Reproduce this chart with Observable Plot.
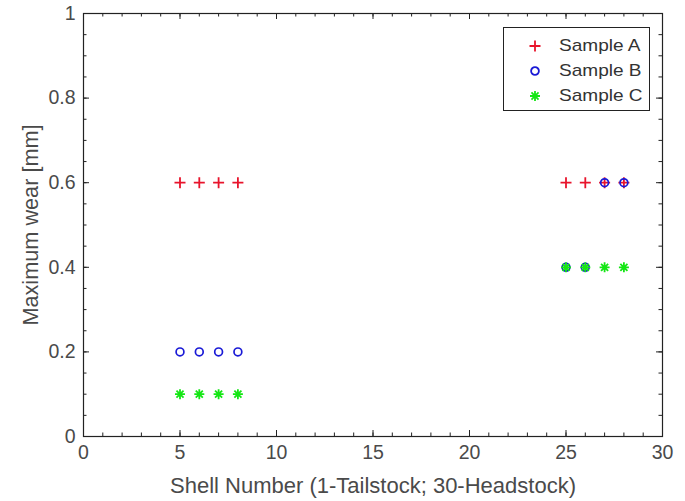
<!DOCTYPE html>
<html>
<head>
<meta charset="utf-8">
<script src="https://cdn.jsdelivr.net/npm/d3@7"></script>
<script src="https://cdn.jsdelivr.net/npm/@observablehq/plot@0.6"></script>
<style>
  body { margin: 0; background: #fff; font-family: "Liberation Sans", Arial, sans-serif; }
  #chart { position: relative; width: 685px; height: 501px; }
  .legend { position: absolute; left: 503px; top: 27px; width: 147px; height: 84px;
            border: 1px solid #222; background: #fff; box-sizing: border-box; }
  .legend .row { position: absolute; left: 0; height: 24px; display: flex; align-items: center; }
  .legend svg { width: 24px; height: 24px; margin-left: 19px; flex: none; }
  .legend span { margin-left: 12px; font-size: 17px; color: #333; white-space: nowrap;
                 display: inline-block; transform: scaleX(1.12); transform-origin: left center; }
</style>
</head>
<body>
<div id="chart"></div>
<script>
// Wear measurements per sample: shell number and maximum wear (mm)
const sampleNames = ["Sample A", "Sample B", "Sample C"];
const sampleAShells = [5, 6, 7, 8, 25, 26, 27, 28];
const sampleAWear   = [0.6, 0.6, 0.6, 0.6, 0.6, 0.6, 0.6, 0.6];
const sampleBShells = [5, 6, 7, 8, 25, 26, 27, 28];
const sampleBWear   = [0.2, 0.2, 0.2, 0.2, 0.4, 0.4, 0.6, 0.6];
const sampleCShells = [5, 6, 7, 8, 25, 26, 27, 28];
const sampleCWear   = [0.1, 0.1, 0.1, 0.1, 0.4, 0.4, 0.4, 0.4];

// Axis ticks
const xTicks = [0, 5, 10, 15, 20, 25, 30];
const yTicks = [0, 0.2, 0.4, 0.6, 0.8, 1];
const xMinorTicks = d3.range(0, 31, 1);
const yMinorTicks = d3.range(0, 21, 1).map(i => i / 20);

const colorA = "#e8142c", colorB = "#1a1ad6", colorC = "#14e614";

// Stroked marker shapes; size is π·r² as Plot passes it
const plusSymbol = {
  draw(ctx, size) {
    const r = Math.sqrt(size / Math.PI);
    ctx.moveTo(-r, 0); ctx.lineTo(r, 0);
    ctx.moveTo(0, -r); ctx.lineTo(0, r);
  }
};
const starSymbol = {
  draw(ctx, size) {
    const r = Math.sqrt(size / Math.PI), d = r * Math.SQRT1_2;
    ctx.moveTo(-r, 0); ctx.lineTo(r, 0);
    ctx.moveTo(0, -r); ctx.lineTo(0, r);
    ctx.moveTo(-d, -d); ctx.lineTo(d, d);
    ctx.moveTo(-d, d); ctx.lineTo(d, -d);
  }
};

const W = 685, H = 501, mTop = 13, mBottom = 65, mLeft = 83, mRight = 23;
const innerH = H - mTop - mBottom, innerW = W - mLeft - mRight;
const majorLen = 6, minorLen = 3.5, axisColor = "#222";

const inwardX = (ticks, len) => [
  Plot.tickX(ticks, {x: d => d, insetTop: innerH - len, stroke: axisColor}),
  Plot.tickX(ticks, {x: d => d, insetBottom: innerH - len, stroke: axisColor})
];
const inwardY = (ticks, len) => [
  Plot.tickY(ticks, {y: d => d, insetRight: innerW - len, stroke: axisColor}),
  Plot.tickY(ticks, {y: d => d, insetLeft: innerW - len, stroke: axisColor})
];

const chart = Plot.plot({
  width: W, height: H,
  marginTop: mTop, marginBottom: mBottom, marginLeft: mLeft, marginRight: mRight,
  style: {fontFamily: "'Liberation Sans', Arial, sans-serif", fontSize: "19.5px", color: "#4a4a4a", background: "#fff"},
  x: {domain: [0, 30]},
  y: {domain: [0, 1]},
  marks: [
    ...inwardX(xMinorTicks, minorLen),
    ...inwardX(xTicks, majorLen),
    ...inwardY(yMinorTicks, minorLen),
    ...inwardY(yTicks, majorLen),
    Plot.frame({stroke: axisColor, strokeWidth: 1.2}),
    Plot.axisX({ticks: xTicks, tickSize: 0, tickPadding: 9, tickFormat: d => String(d), label: null}),
    Plot.axisX({ticks: [], label: "Shell Number (1-Tailstock; 30-Headstock)", labelAnchor: "center",
      labelArrow: "none", labelOffset: 56, fontSize: 22}),
    Plot.axisY({ticks: yTicks, tickSize: 0, tickPadding: 8, tickFormat: d => String(d), label: null}),
    Plot.axisY({ticks: [], label: "Maximum wear [mm]", labelAnchor: "center",
      labelArrow: "none", labelOffset: 61, fontSize: 21.7}),
    Plot.dot(sampleAShells, {x: d => d, y: (d, i) => sampleAWear[i], symbol: plusSymbol, r: 5.5,
      stroke: colorA, fill: "none", strokeWidth: 1.8}),
    Plot.dot(sampleBShells, {x: d => d, y: (d, i) => sampleBWear[i], symbol: "circle", r: 3.9,
      stroke: colorB, fill: "none", strokeWidth: 1.7}),
    Plot.dot(sampleCShells, {x: d => d, y: (d, i) => sampleCWear[i], symbol: starSymbol, r: 5,
      stroke: colorC, fill: "none", strokeWidth: 1.8})
  ]
});

const container = document.getElementById("chart");
container.appendChild(chart);

// Legend box inside the axes, top right
const legendSymbols = [
  {name: sampleNames[0], color: colorA, symbol: plusSymbol, r: 5.5},
  {name: sampleNames[1], color: colorB, symbol: d3.symbolCircle, r: 3.9},
  {name: sampleNames[2], color: colorC, symbol: starSymbol, r: 5}
];
const legend = document.createElement("div");
legend.className = "legend";
legendSymbols.forEach((s, i) => {
  const row = document.createElement("div");
  row.className = "row";
  row.style.top = (6 + i * 25) + "px";
  const svg = d3.create("svg").attr("viewBox", "-12 -12 24 24");
  svg.append("path")
    .attr("d", d3.symbol(s.symbol, Math.PI * s.r * s.r)())
    .attr("fill", "none").attr("stroke", s.color).attr("stroke-width", 1.8);
  row.appendChild(svg.node());
  const label = document.createElement("span");
  label.textContent = s.name;
  row.appendChild(label);
  legend.appendChild(row);
});
container.appendChild(legend);
</script>
</body>
</html>
